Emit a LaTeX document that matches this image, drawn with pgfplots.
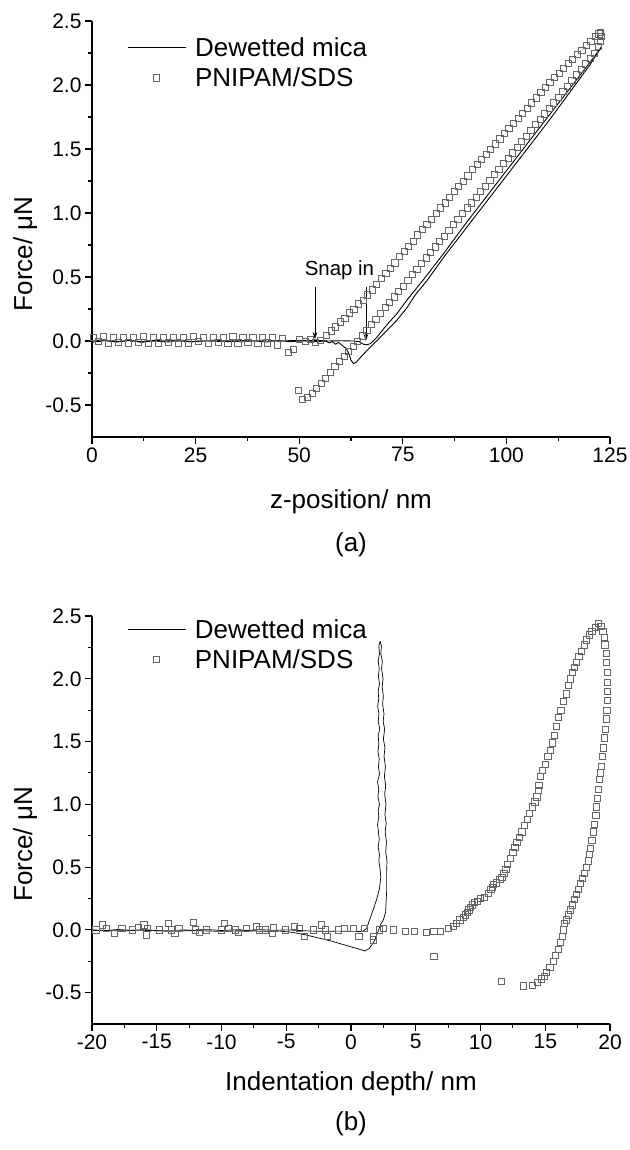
\documentclass[border=0pt]{standalone}
\usepackage{fontspec}
\setmainfont{Liberation Sans}
\usepackage{pgfplots}
\pgfplotsset{compat=1.18}
\usetikzlibrary{arrows.meta}

\newcommand{\tickfont}{\fontsize{21bp}{24bp}\selectfont}
\newcommand{\labfont}{\fontsize{26bp}{30bp}\selectfont}

\pgfplotsset{
  afmstyle/.style={
    scale only axis,
    width=518bp, height=416bp,
    axis lines=left,
    axis line style={-, line width=1.2bp},
    tick align=outside,
    major tick length=7bp,
    minor tick length=4bp,
    tick style={black, line width=1.1bp},
    ymin=-0.75, ymax=2.5,
    ytick={-0.5,0,0.5,1,1.5,2,2.5},
    minor y tick num=1,
    minor x tick num=1,
    /pgf/number format/assume math mode=true,
    tick label style={font=\tickfont},
    yticklabel style={/pgf/number format/.cd, fixed, fixed zerofill, precision=1},
    xticklabel style={/pgf/number format/.cd, fixed},
    ylabel={Force/ μN},
    every axis y label/.style={at={(axis description cs:-0.129,0.44)}, rotate=90, anchor=center, font=\labfont},
    every axis x label/.style={at={(axis description cs:0.5,-0.156)}, anchor=center, font=\labfont},
    legend style={draw=none, fill=none, font=\labfont, inner sep=0pt,
      row sep=6bp, column sep=7bp, anchor=west},
    legend cell align=left,
    clip=false,
  },
  micaline/.style={black, line width=0.9bp, mark=none,
    legend image code/.code={\draw[##1] (0bp,0bp) -- (58bp,0bp);}},
  sqmark/.style={only marks, mark=square, mark size=3.1bp,
    mark options={black!60, line width=0.7bp},
    legend image code/.code={\draw[##1] plot coordinates {(29bp,0bp)};}},
}

\begin{document}
\begin{tikzpicture}
\useasboundingbox (0,0) rectangle (630bp,-1150bp);

% ---------------- (a) ----------------
\begin{axis}[afmstyle,
  at={(92bp,-437bp)}, anchor=south west,
  xmin=0, xmax=125,
  xtick={0,25,50,75,100,125},
  xlabel={z-position/ nm},
  legend style={at={(axis description cs:0.0676,0.9)}},
]
% dewetted mica, approach
\addplot[micaline] coordinates {
(0,0.0)(3,0.01)(6,-0.005)(9,0.005)(12,-0.01)(15,0.005)(18,0.0)(21,0.01)(24,-0.005)
(27,0.0)(30,0.008)(33,-0.006)(36,0.004)(39,0.0)(42,0.01)(45,-0.005)(48,0.004)(51,0.0)
(54,0.005)(57,0.0)(60,0.002)(63,0.0)(64.5,-0.005)(65.5,-0.025)(66.3,-0.03)(67.2,-0.02)
(68.5,0.02)(70,0.08)(71.5,0.14)(73.5,0.21)(76,0.32)(80,0.48)(85,0.69)(90,0.91)
(95,1.12)(100,1.33)(105,1.54)(110,1.75)(115,1.96)(120,2.17)(123,2.30)
};
\addlegendentry{Dewetted mica}
% PNIPAM/SDS, approach
\addplot[sqmark] coordinates {
(0.4,0.03)(1.6,0.0)(2.8,0.035)(4.0,-0.02)(5.2,0.03)(6.4,-0.01)(7.6,0.03)(8.8,-0.015)
(10.0,0.025)(11.2,-0.01)(12.4,0.035)(13.6,-0.02)(14.8,0.025)(16.0,-0.015)(17.2,0.03)
(18.4,-0.01)(19.6,0.025)(20.8,-0.02)(22.0,0.03)(23.2,-0.015)(24.4,0.035)(25.6,0.0)
(26.8,0.03)(28.0,-0.02)(29.2,0.025)(30.4,-0.01)(31.6,0.03)(32.8,-0.02)(34.0,0.035)
(35.2,-0.015)(36.4,0.025)(37.6,-0.01)(38.8,0.03)(40.0,-0.02)(41.2,0.03)(42.4,-0.015)
(43.6,0.025)(44.8,-0.03)(46.0,0.02)(47.4,-0.09)(48.6,-0.065)(50.0,0.01)(51.5,0.0)
(52.7,0.01)(53.9,-0.01)(55.1,0.005)
(56.6,0.045)(57.7,0.08)(58.8,0.11)(59.9,0.15)(61.0,0.18)(62.1,0.22)(63.2,0.25)(64.3,0.29)
(65.4,0.32)(66.5,0.36)(67.6,0.40)(68.7,0.44)(69.8,0.49)(70.9,0.53)(72.0,0.57)(73.1,0.61)
(74.2,0.66)(75.3,0.70)(76.4,0.74)(77.5,0.78)(78.6,0.83)(79.7,0.87)(80.8,0.91)(81.9,0.95)
(83.0,1.00)(84.1,1.04)(85.2,1.08)(86.3,1.12)(87.4,1.17)(88.5,1.21)(89.6,1.25)(90.7,1.29)
(91.8,1.34)(92.9,1.38)(94.0,1.42)(95.1,1.46)(96.2,1.50)(97.3,1.54)(98.4,1.58)(99.5,1.62)
(100.6,1.66)(101.7,1.70)(102.8,1.74)(103.9,1.78)(105.0,1.82)(106.1,1.86)(107.2,1.90)
(108.3,1.94)(109.4,1.98)(110.5,2.02)(111.6,2.06)(112.7,2.09)(113.8,2.13)(114.9,2.17)
(116.0,2.20)(117.1,2.24)(118.2,2.27)(119.3,2.31)(120.4,2.34)(121.5,2.38)(122.3,2.40)
};
\addlegendentry{PNIPAM/SDS}
% dewetted mica, retract
\addplot[micaline, forget plot] coordinates {
(123,2.30)(120,2.15)(115,1.93)(110,1.71)(105,1.50)(100,1.29)(95,1.08)(90,0.87)(85,0.66)
(80.8,0.47)(78,0.36)(75.9,0.255)(73.5,0.16)(71.1,0.08)(69,0.01)(67.1,-0.05)(65,-0.12)
(63.8,-0.165)(63.1,-0.176)(62.5,-0.15)(62,-0.10)(61.4,-0.06)(60.8,-0.045)(60.2,-0.03)
(59.5,-0.01)(58.8,-0.025)(58,-0.005)(57.2,-0.015)(56.5,0.0)(54,-0.005)(51,0.004)
(48,-0.006)(45,0.003)(42,-0.008)(39,0.002)(36,-0.006)(33,0.004)(30,-0.005)(27,0.003)
(24,-0.006)(21,0.0)(18,-0.008)(15,0.002)(12,-0.005)(9,0.004)(6,-0.007)(3,0.002)(0,-0.01)
};
% PNIPAM/SDS, retract
\addplot[sqmark, forget plot] coordinates {
(49.8,-0.385)(50.8,-0.455)
(52.0,-0.44)(53.1,-0.41)(54.2,-0.37)(55.3,-0.33)(56.4,-0.29)(57.5,-0.245)(58.6,-0.20)
(59.7,-0.16)(60.8,-0.12)(61.9,-0.08)(63.0,-0.04)(64.1,0.00)(65.2,0.04)(66.3,0.085)
(67.4,0.13)(68.5,0.17)(69.6,0.215)(70.7,0.26)(71.8,0.30)(72.9,0.345)(74.0,0.39)
(75.1,0.43)(76.2,0.475)(77.3,0.52)(78.4,0.56)(79.5,0.605)(80.6,0.65)(81.7,0.69)
(82.8,0.735)(83.9,0.78)(85.0,0.82)(86.1,0.865)(87.2,0.91)(88.3,0.95)(89.4,0.995)
(90.5,1.04)(91.6,1.08)(92.7,1.125)(93.8,1.17)(94.9,1.21)(96.0,1.255)(97.1,1.30)
(98.2,1.34)(99.3,1.385)(100.4,1.43)(101.5,1.47)(102.6,1.515)(103.7,1.56)(104.8,1.60)
(105.9,1.645)(107.0,1.69)(108.1,1.73)(109.2,1.775)(110.3,1.82)(111.4,1.86)(112.5,1.905)
(113.6,1.95)(114.7,1.99)(115.8,2.035)(116.9,2.08)(118.0,2.12)(119.1,2.165)(120.2,2.21)
(121.3,2.25)(122.2,2.30)(122.6,2.34)(122.8,2.38)(122.6,2.41)
};
\node[font=\fontsize{20.4bp}{24bp}\selectfont] at (axis cs:59.7,0.55) {Snap in};
\draw[-{Stealth[length=7bp,width=4.5bp]}, line width=0.8bp] (axis cs:53.8,0.42) -- (axis cs:53.8,0.015);
\draw[-{Stealth[length=7bp,width=4.5bp]}, line width=0.8bp] (axis cs:66.1,0.42) -- (axis cs:66.1,0.0);
\node[font=\labfont] at (axis description cs:0.5,-0.26) {(a)};
\end{axis}

% ---------------- (b) ----------------
\begin{axis}[afmstyle,
  at={(92bp,-1024bp)}, anchor=south west,
  height=408bp,
  xmin=-20, xmax=20,
  xtick={-20,-15,...,20},
  xlabel={Indentation depth/ nm},
  every axis x label/.style={at={(axis description cs:0.5,-0.147)}, anchor=center, font=\labfont},
  legend style={at={(axis description cs:0.0676,0.93)}},
]
% dewetted mica, approach
\addplot[micaline, line width=0.7bp] coordinates {
(-20,0.0)(-19,-0.005)(-18,0.003)(-17,-0.004)(-16,0.002)(-15,-0.006)(-14,-0.01)(-13,0.0)
(-12,-0.004)(-11,0.002)(-10,-0.005)(-9,0.0)(-8,-0.006)(-7,0.002)(-6,-0.004)(-5,0.0)
(-4,-0.005)(-3,-0.01)(-2,-0.012)(-1,-0.01)(0,-0.012)(0.9,-0.013)(1.2,0.01)(1.47,0.09)
(1.75,0.17)(2.0,0.25)(2.2,0.33)(2.3,0.42)(2.25,0.48)(2.15,0.55)(2.2,0.6)(2.1,0.66)
(2.18,0.72)(2.12,0.78)(2.05,0.84)(2.15,0.9)(2.1,0.95)(2.2,1.0)(2.08,1.06)(2.14,1.12)
(2.05,1.18)(2.2,1.24)(2.12,1.3)(2.18,1.36)(2.08,1.42)(2.15,1.48)(2.1,1.55)(2.22,1.6)
(2.1,1.66)(2.16,1.72)(2.06,1.78)(2.14,1.84)(2.1,1.9)(2.2,1.96)(2.12,2.02)(2.18,2.08)
(2.1,2.14)(2.2,2.2)(2.15,2.26)(2.25,2.3)
};
\addlegendentry{Dewetted mica}
% PNIPAM/SDS
\addplot[sqmark] coordinates {
(-19.7,0.0)(-19.2,0.04)(-18.9,0.01)(-18.3,-0.03)(-17.7,0.01)(-16.9,0.0)(-16.4,0.02)
(-16.0,0.04)(-15.8,-0.04)(-15.7,0.01)(-14.8,0.0)(-14.1,0.05)(-13.9,0.0)(-13.6,-0.03)
(-13.3,0.01)(-12.2,0.06)(-12.0,0.0)(-11.7,-0.02)(-11.2,0.0)(-10.0,0.0)(-9.8,0.05)
(-9.5,0.01)(-8.9,0.0)(-8.7,-0.02)(-8.1,0.01)(-7.3,0.03)(-7.1,0.0)(-6.6,0.0)(-6.1,-0.03)
(-6.0,0.02)(-5.1,0.0)(-4.4,0.03)(-4.0,0.01)(-3.6,-0.05)(-2.9,0.0)(-2.3,0.04)(-2.0,0.0)
(-1.8,-0.05)(-1.0,0.0)(-0.5,0.01)(0.2,0.01)(0.6,-0.05)(1.0,0.01)(1.7,-0.05)(1.7,-0.08)
(2.2,0.0)(2.5,0.01)(3.3,0.0)(4.2,-0.01)(4.9,-0.01)(5.8,-0.02)(6.4,-0.01)(6.9,-0.01)
(6.4,-0.21)
(7.5,0.01)(7.9,0.03)(8.15,0.05)(8.4,0.08)(8.7,0.10)(8.85,0.12)(9.0,0.14)(9.1,0.16)
(9.2,0.18)(9.35,0.2)(9.5,0.22)(9.75,0.23)(10.0,0.25)(10.3,0.26)(10.6,0.29)(10.8,0.32)
(10.9,0.34)(11.0,0.36)(11.2,0.375)(11.5,0.40)(11.65,0.42)(11.8,0.45)(11.95,0.48)
(12.1,0.52)(12.3,0.57)(12.5,0.62)(12.65,0.66)(12.8,0.70)(13.0,0.74)(13.2,0.78)
(13.4,0.83)(13.6,0.88)(13.8,0.93)(14.0,0.98)(14.2,1.02)(14.35,1.06)(14.45,1.11)
(14.5,1.15)(14.6,1.22)(14.8,1.27)(15.0,1.32)(15.2,1.38)(15.4,1.43)(15.55,1.49)
(15.7,1.55)(15.85,1.62)(16.0,1.69)(16.2,1.75)(16.4,1.82)(16.6,1.88)(16.8,1.95)
(16.95,2.0)(17.1,2.05)(17.25,2.09)(17.4,2.13)(17.6,2.18)(17.8,2.22)(18.0,2.27)
(18.2,2.31)(18.4,2.35)(18.6,2.38)(18.85,2.41)(19.1,2.44)
(19.3,2.42)(19.45,2.38)(19.55,2.33)(19.6,2.27)(19.7,2.2)(19.72,2.13)(19.78,2.05)
(19.8,1.97)(19.82,1.9)(19.78,1.83)(19.75,1.75)(19.7,1.68)(19.65,1.6)(19.58,1.53)
(19.5,1.45)(19.42,1.38)(19.35,1.3)(19.28,1.25)(19.2,1.2)(19.1,1.12)(19.0,1.05)
(18.95,0.98)(18.9,0.91)(18.8,0.84)(18.7,0.78)(18.6,0.71)(18.5,0.65)(18.4,0.6)
(18.3,0.55)(18.15,0.5)(18.0,0.45)(17.85,0.41)(17.7,0.37)(17.55,0.32)(17.4,0.28)
(17.25,0.24)(17.1,0.2)(16.95,0.16)(16.8,0.12)(16.65,0.08)(16.5,0.05)(16.4,0.0)
(16.3,-0.05)(16.15,-0.1)(16.0,-0.155)(15.8,-0.2)(15.6,-0.25)(15.35,-0.3)(15.1,-0.34)
(14.9,-0.37)(14.7,-0.39)(14.4,-0.42)(14.0,-0.44)(13.3,-0.446)
(11.6,-0.41)
};
\addlegendentry{PNIPAM/SDS}
% dewetted mica, retract
\addplot[micaline, line width=0.7bp, forget plot] coordinates {
(2.25,2.3)(2.35,2.26)(2.3,2.2)(2.42,2.14)(2.36,2.08)(2.48,2.0)(2.4,1.94)(2.5,1.86)
(2.44,1.8)(2.55,1.72)(2.48,1.66)(2.6,1.6)(2.5,1.52)(2.62,1.45)(2.55,1.38)(2.66,1.3)
(2.58,1.22)(2.68,1.15)(2.6,1.08)(2.7,1.0)(2.62,0.92)(2.72,0.85)(2.64,0.78)(2.74,0.7)
(2.68,0.62)(2.78,0.55)(2.75,0.45)(2.75,0.3)(2.67,0.14)(2.5,0.08)(2.27,0.04)
(2.0,-0.04)(1.74,-0.10)(1.4,-0.15)(1.07,-0.168)(0.5,-0.15)(-0.5,-0.12)(-1.5,-0.09)
(-2.5,-0.065)(-3.5,-0.04)(-4.5,-0.02)(-5.5,-0.01)(-6.5,-0.012)(-8,-0.008)(-10,-0.012)
(-12,-0.006)(-14,-0.01)(-16,-0.004)(-18,-0.008)(-20,-0.005)
};
\node[font=\labfont] at (axis description cs:0.5,-0.245) {(b)};
\end{axis}
\end{tikzpicture}
\end{document}
